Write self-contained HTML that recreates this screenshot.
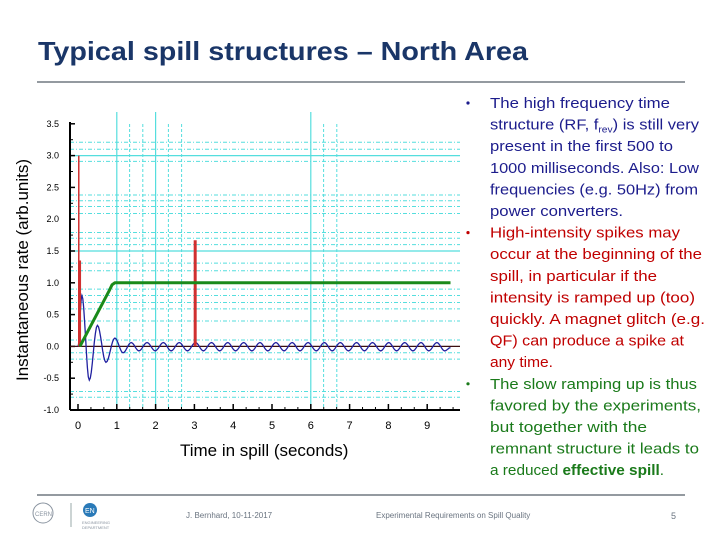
<!DOCTYPE html>
<html><head><meta charset="utf-8"><style>
html,body{margin:0;padding:0;background:#fff}
svg{display:block}
text{font-family:"Liberation Sans",sans-serif}
</style></head><body>
<svg id="s" width="720" height="540" viewBox="0 0 720 540">
<text x="38" y="60" font-size="26" font-weight="bold" fill="#1a3668" textLength="490" lengthAdjust="spacingAndGlyphs">Typical spill structures – North Area</text>
<line x1="37" y1="82" x2="685" y2="82" stroke="#2a3540" stroke-width="1"/>
<g id="chart"></g>
<g id="bullets"></g>
<line x1="37" y1="495" x2="685" y2="495" stroke="#2a3540" stroke-width="1"/>
<g><circle cx="43" cy="513" r="10" fill="none" stroke="#8a94a0" stroke-width="1"/><text x="35" y="516" font-size="6" fill="#8a94a0">CERN</text></g>
<line x1="71" y1="503" x2="71" y2="527" stroke="#9aa" stroke-width="1"/>
<g><circle cx="90" cy="510" r="7" fill="#2a7ab8"/><text x="85" y="513" font-size="7" fill="#fff">EN</text><text x="82" y="524" font-size="4" fill="#8a94a0">ENGINEERING</text><text x="82" y="529" font-size="4" fill="#8a94a0">DEPARTMENT</text></g>
<text x="186" y="518" font-size="8" fill="#6a7480">J. Bernhard, 10-11-2017</text>
<text x="376" y="518" font-size="8" fill="#6a7480">Experimental Requirements on Spill Quality</text>
<text x="671" y="519" font-size="9" fill="#6a7480">5</text>
</svg>
<script>
const xTicks=[0,1,2,3,4,5,6,7,8,9];
const yTicks=[-1.0,-0.5,0.0,0.5,1.0,1.5,2.0,2.5,3.0,3.5];
const vSolid=[1,2,6];
const vDash=[1.33,1.67,2.33,2.67,6.33,6.67];
const hSolid=[3.0,1.5];
const hDash=[3.21,3.10,2.91,2.38,2.29,2.20,2.09,1.79,1.70,1.60,1.31,1.19,0.90,0.80,0.69,0.59,0.40,0.10,-0.10,-0.20,-0.71,-0.80];
const blueT=[0,0.1,0.29,0.5,0.72,0.95,1.16,1.37,1.57,1.78,1.99,2.2,2.4,2.61,2.82,3.03,3.23,3.44,3.65,3.86,4.06,4.27,4.48,4.69,4.89,5.1,5.31,5.52,5.72,5.93,6.14,6.35,6.55,6.76,6.97,7.18,7.38,7.59,7.8,8.01,8.21,8.42,8.63,8.84,9.04,9.25,9.45,9.6];
const blueV=[0,0.8,-0.53,0.33,-0.25,0.13,-0.1,0.06,-0.07,0.06,-0.07,0.06,-0.07,0.06,-0.07,0.06,-0.07,0.06,-0.07,0.06,-0.07,0.06,-0.07,0.06,-0.07,0.06,-0.07,0.06,-0.07,0.06,-0.07,0.06,-0.07,0.06,-0.07,0.06,-0.07,0.06,-0.07,0.06,-0.07,0.06,-0.07,0.06,-0.07,0.06,-0.07,-0.02];
const greenT=[0.05,0.8,0.88,0.95,9.6];
const greenV=[0,0.87,0.97,1.0,1.0];
const spikeT=[0.02,0.04,3.02];
const spikeV=[3.0,1.35,1.67];
const spikeW=[1.5,3,3];

const NS="http://www.w3.org/2000/svg";
const X=v=>78+v*38.8, Y=v=>346.4-v*63.6;
const g=document.getElementById('chart');
function mk(t,a,p){const e=document.createElementNS(NS,t);for(const k in a)e.setAttribute(k,a[k]);(p||g).appendChild(e);return e;}
const L=70,R=460,T=124,B=410;
hDash.forEach(v=>{const e=mk('line',{x1:L,x2:R,y1:Y(v),y2:Y(v),stroke:'#55dede','stroke-width':1,'stroke-dasharray':'4 2 1 2'});
});
vDash.forEach(v=>{const e=mk('line',{x1:X(v),x2:X(v),y1:T,y2:B,stroke:'#55dede','stroke-width':1,'stroke-dasharray':'3 2'});
});
hSolid.forEach(v=>{const e=mk('line',{x1:L,x2:R,y1:Y(v),y2:Y(v),stroke:'#55dede','stroke-width':1.2});
});
vSolid.forEach(v=>{const e=mk('line',{x1:X(v),x2:X(v),y1:T-12,y2:B,stroke:'#55dede','stroke-width':1.2});
});
let ax=mk('line',{x1:L,x2:L,y1:T-2,y2:B,stroke:'#000','stroke-width':2});
ax=mk('line',{x1:L,x2:R,y1:B,y2:B,stroke:'#000','stroke-width':2});
yTicks.forEach(v=>{const e=mk('text',{x:L-11,y:Y(v)+3,'font-size':9,'text-anchor':'end',fill:'#000'});e.textContent=v.toFixed(1);

mk('line',{x1:L,x2:L+5,y1:Y(v),y2:Y(v),stroke:'#000','stroke-width':1.5});
mk('line',{x1:L,x2:L+3,y1:Y(v+0.25),y2:Y(v+0.25),stroke:'#000','stroke-width':1}).setAttribute('opacity',v<3.5?1:0);});
xTicks.forEach(v=>{const e=mk('text',{x:X(v),y:B+19,'font-size':11,'text-anchor':'middle',fill:'#000'});e.textContent=v;

mk('line',{x1:X(v),x2:X(v),y1:B,y2:B-6,stroke:'#000','stroke-width':1.5});
for(let k=1;k<3;k++)mk('line',{x1:X(v+k/3),x2:X(v+k/3),y1:B,y2:B-3,stroke:'#000','stroke-width':1});});
let t=mk('text',{x:X(4.8),y:456,'font-size':17,'text-anchor':'middle',fill:'#000'});t.textContent='Time in spill (seconds)';

t=mk('text',{x:0,y:0,'font-size':17,'text-anchor':'middle',fill:'#000',transform:'translate(28,270) rotate(-90)'});t.textContent='Instantaneous rate (arb.units)';

ax=mk('line',{x1:L,x2:R,y1:Y(0),y2:Y(0),stroke:'#3a1010','stroke-width':1.2});
let d='';
for(let i=0;i<blueT.length-1;i++){const n=8;for(let k=0;k<=n;k++){if(i>0&&k==0)continue;const f=(1-Math.cos(Math.PI*k/n))/2;
const tx=blueT[i]+(blueT[i+1]-blueT[i])*k/n, vy=blueV[i]+(blueV[i+1]-blueV[i])*f;d+=(d?'L':'M')+X(tx).toFixed(1)+' '+Y(vy).toFixed(1);}}
let p=mk('path',{d,fill:'none',stroke:'#2020a0','stroke-width':1.3});
spikeT.forEach((v,i)=>{const e=mk('line',{x1:X(v),x2:X(v),y1:Y(0),y2:Y(spikeV[i]),stroke:'#d03030','stroke-width':spikeW[i]});
});
d=greenT.map((v,i)=>(i?'L':'M')+X(v).toFixed(1)+' '+Y(greenV[i]).toFixed(1)).join('');
p=mk('path',{d,fill:'none',stroke:'#1a8a1a','stroke-width':3,'stroke-linejoin':'round'});
const bg=document.getElementById('bullets');
const lines=[
["The high frequency time",670,'#1c1c8c',1],["structure (RF, f",0,'#1c1c8c'],["present in the first 500 to",673,'#1c1c8c'],["1000 milliseconds. Also: Low",699,'#1c1c8c'],["frequencies (e.g. 50Hz) from",698,'#1c1c8c'],["power converters.",623,'#1c1c8c'],
["High-intensity spikes may",680,'#c00000',1],["occur at the beginning of the",702,'#c00000'],["spill, in particular if the",657,'#c00000'],["intensity is ramped up (too)",695,'#c00000'],["quickly. A magnet glitch (e.g.",705,'#c00000'],["QF) can produce a spike at",684,'#c00000'],["any time.",553,'#c00000'],
["The slow ramping up is thus",697,'#1a7a1a',1],["favored by the experiments,",701,'#1a7a1a'],["but together with the",647,'#1a7a1a'],["remnant structure it leads to",699,'#1a7a1a'],["a reduced ",0,'#1a7a1a']];
lines.forEach((l,i)=>{const y=108+i*21.6;
if(l[3]){const b=mk('circle',{cx:468,cy:y-5,r:1.6,fill:l[2]},bg);}
const e=mk('text',{x:490,y,'font-size':14.5,fill:l[2]},bg);
if(l[1])e.setAttribute('textLength',l[1]-490),e.setAttribute('lengthAdjust','spacingAndGlyphs');

if(i==1){e.innerHTML='structure (RF, f<tspan font-size="9" dy="3">rev</tspan><tspan dy="-3">) is still very</tspan>';e.setAttribute('textLength',209);e.setAttribute('lengthAdjust','spacingAndGlyphs');}
else if(i==17){e.innerHTML='a reduced <tspan font-weight="bold">effective spill</tspan>.';e.setAttribute('textLength',174);e.setAttribute('lengthAdjust','spacingAndGlyphs');}
else e.textContent=l[0];});
</script>
</body></html>
